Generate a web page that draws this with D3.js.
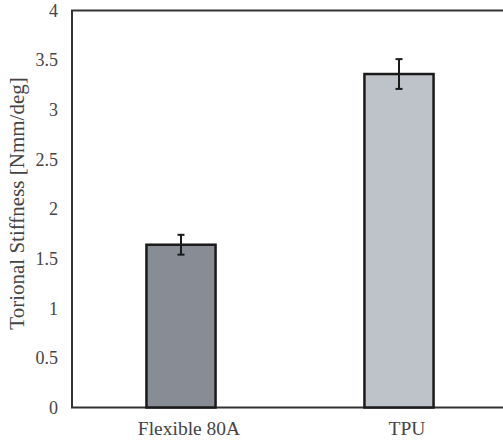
<!DOCTYPE html>
<html>
<head>
<meta charset="utf-8">
<script src="https://cdn.jsdelivr.net/npm/d3@7"></script>
</head>
<body style="margin:0">
<svg id="chart" width="503" height="441"></svg>
<script>
const categories = [ 'Flexible 80A', 'TPU' ];
const stiffness = [ 1.64, 3.36 ];
const errors = [ 0.10, 0.15 ];
const yticks = [ 0, 0.5, 1, 1.5, 2, 2.5, 3, 3.5, 4 ];
const colors = [ '#878c95', '#bec2c9' ];

const width = 503, height = 441;
const margin = { top: 10.5, right: -5, bottom: 33.5, left: 72 };
const font = "'Liberation Serif'";

const svg = d3.select( '#chart' );

const xscale = d3.scaleBand()
    .domain( categories )
    .range( [ margin.left, width - margin.right ] )
    .paddingInner( 0.683 )
    .paddingOuter( 0.3415 );

const yscale = d3.scaleLinear()
    .domain( [ 0, 4 ] )
    .range( [ height - margin.bottom, margin.top ] );

const data = categories.map( ( c, i ) => ( { cat: c, value: stiffness[i], err: errors[i], color: colors[i] } ) );

// frame (top + left), right side runs past the picture edge
svg.append( 'rect' )
    .attr( 'x', margin.left )
    .attr( 'y', margin.top )
    .attr( 'width', width - margin.right - margin.left )
    .attr( 'height', yscale( 0 ) - margin.top )
    .attr( 'fill', 'none' )
    .attr( 'stroke', '#333' )
    .attr( 'stroke-width', 2 );

svg.selectAll( 'rect.bar' )
    .data( data )
    .enter()
    .append( 'rect' )
    .attr( 'class', 'bar' )
    .attr( 'x', d => xscale( d.cat ) )
    .attr( 'y', d => yscale( d.value ) )
    .attr( 'width', xscale.bandwidth() )
    .attr( 'height', d => yscale( 0 ) - yscale( d.value ) )
    .attr( 'fill', d => d.color )
    .attr( 'stroke', '#1a1a1a' )
    .attr( 'stroke-width', 2.5 );

// error bars
const eb = svg.selectAll( 'g.err' )
    .data( data )
    .enter()
    .append( 'g' )
    .attr( 'class', 'err' )
    .attr( 'stroke', '#1a1a1a' )
    .attr( 'stroke-width', 2 );

eb.append( 'line' )
    .attr( 'x1', d => xscale( d.cat ) + xscale.bandwidth() / 2 )
    .attr( 'x2', d => xscale( d.cat ) + xscale.bandwidth() / 2 )
    .attr( 'y1', d => yscale( d.value + d.err ) )
    .attr( 'y2', d => yscale( d.value - d.err ) );

[ 1, -1 ].forEach( s => {
    eb.append( 'line' )
        .attr( 'x1', d => xscale( d.cat ) + xscale.bandwidth() / 2 - 3.5 )
        .attr( 'x2', d => xscale( d.cat ) + xscale.bandwidth() / 2 + 3.5 )
        .attr( 'y1', d => yscale( d.value + s * d.err ) )
        .attr( 'y2', d => yscale( d.value + s * d.err ) );
});

// y axis labels (no tick marks)
const yaxis = d3.axisLeft( yscale )
    .tickValues( yticks )
    .tickFormat( d => d )
    .tickSize( 0 )
    .tickPadding( 14 );

svg.append( 'g' )
    .attr( 'transform', `translate(${margin.left}, 0)` )
    .call( yaxis )
    .call( g => g.select( '.domain' ).remove() )
    .attr( 'font-family', null )
    .attr( 'font-size', null )
    .selectAll( 'text' )
    .style( 'font-family', font )
    .style( 'font-size', '18px' )
    .attr( 'fill', '#444' );

// x axis labels
const xaxis = d3.axisBottom( xscale )
    .tickSize( 0 )
    .tickPadding( 14 );

svg.append( 'g' )
    .attr( 'transform', `translate(0, ${yscale( 0 )})` )
    .call( xaxis )
    .call( g => g.select( '.domain' ).remove() )
    .attr( 'font-family', null )
    .attr( 'font-size', null )
    .selectAll( 'text' )
    .attr( 'dx', 8 )
    .style( 'font-family', font )
    .style( 'font-size', '19.5px' )
    .attr( 'fill', '#444' );

svg.append( 'text' )
    .attr( 'transform', 'rotate(-90)' )
    .attr( 'x', -203.5 )
    .attr( 'y', 24 )
    .attr( 'text-anchor', 'middle' )
    .style( 'font-family', font )
    .style( 'font-size', '21px' )
    .attr( 'fill', '#444' )
    .text( 'Torional Stiffness [Nmm/deg]' );
</script>
</body>
</html>
